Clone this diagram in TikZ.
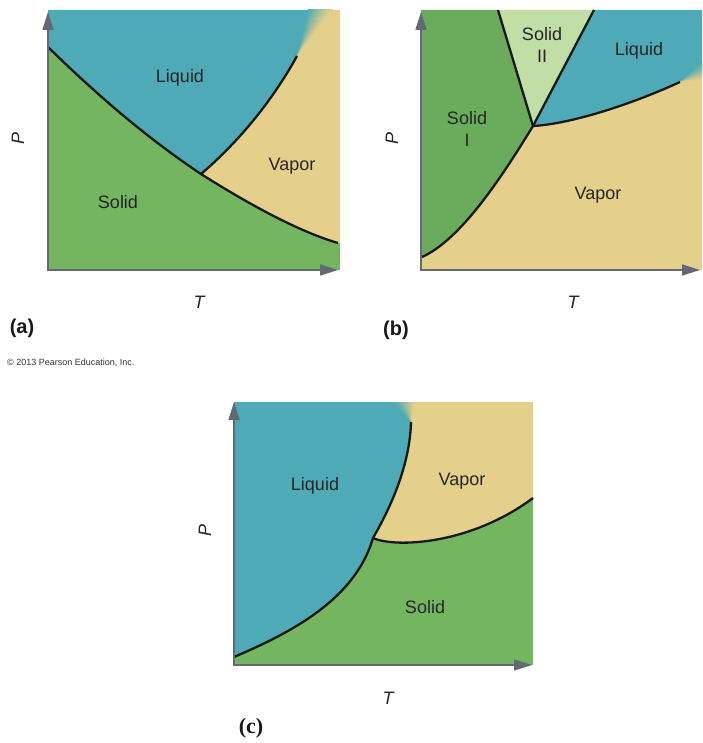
\documentclass[tikz,border=0pt]{standalone}
\usepackage{fontspec}
\setmainfont{Liberation Sans}
\newfontfamily\serifb{Liberation Serif}
\usetikzlibrary{arrows.meta}
\definecolor{liq}{RGB}{78,170,182}
\definecolor{vap}{RGB}{228,208,138}
\definecolor{sol}{RGB}{116,182,96}
\definecolor{solI}{RGB}{106,172,92}
\definecolor{solII}{RGB}{192,222,165}
\definecolor{axisc}{RGB}{100,104,114}
% soft blend between liquid and vapour: fan of wedges from (#1,#2) to around (#3,#4), normal (#5,#6), half-count #7
\newcommand\phfan[7]{%
  \pgfmathtruncatemacro\phlast{#7-1}%
  \foreach \s in {-#7,...,\phlast}{%
    \pgfmathtruncatemacro\phpct{100*(\s+0.5+#7)/(2*#7)}%
    \pgfmathsetmacro\phax{#3+(\s-0.3)*#5}%
    \pgfmathsetmacro\phay{#4+(\s-0.3)*#6}%
    \pgfmathsetmacro\phbx{#3+(\s+1.3)*#5}%
    \pgfmathsetmacro\phby{#4+(\s+1.3)*#6}%
    \fill[vap!\phpct!liq] (#1,#2) -- (\phax,\phay) -- (\phbx,\phby) -- cycle;
  }%
}
\begin{document}
\begin{tikzpicture}[x=1pt,y=-1pt,
  lbl/.style={font=\fontsize{18}{22}\selectfont, text=black!85, inner sep=0pt, align=center},
  axlbl/.style={font=\fontsize{18}{22}\selectfont\itshape, text=black!85, inner sep=0pt},
  panellbl/.style={font=\fontsize{20}{24}\selectfont\bfseries, text=black!90, inner sep=0pt},
  bound/.style={line width=2.3pt, black!90},
  axis/.style={line width=1.6pt, axisc, {Triangle[length=18pt,width=11pt]}-{Triangle[length=18pt,width=11pt]}}
]
\useasboundingbox (0,0) rectangle (702,743);
\fill[white] (0,0) rectangle (702,743);

% ---------------- panel (a)
\coordinate (tpa) at (201,174);
\fill[sol] (48,10) rectangle (340,270);
\fill[liq] (48,10) -- (318,10) -- (297,56) .. controls (270,105) and (235,145) .. (tpa)
  .. controls (150,140) and (100,98) .. (48,47) -- cycle;
\fill[vap] (318,10) -- (340,10) -- (340,243) -- (338,243)
  .. controls (300,232) and (250,205) .. (tpa)
  .. controls (235,145) and (270,105) .. (297,56) -- cycle;
\begin{scope}
  \clip (48,10) rectangle (340,270);
  \phfan{297}{56}{322}{4}{0.9}{0.43}{12}
\end{scope}
\draw[bound] (48,47) .. controls (100,98) and (150,140) .. (tpa)
  .. controls (250,205) and (300,232) .. (338,243);
\draw[bound] (tpa) .. controls (235,145) and (270,105) .. (297,56);
\coordinate (oa) at (48,270);
\draw[axis] (48,12) -- (oa) -- (338,270);
\node[lbl] (liqa) at (180,78) {Liquid};
\node[lbl] (vapa) at (292,166) {Vapor};
\node[lbl] (sola) at (118,202) {Solid};
\node[axlbl, rotate=90] (pa) at (18,138) {P};
\node[axlbl] (ta) at (199,302) {T};
\node[panellbl] (laba) at (22,328) {(a)};
\node[anchor=west, font=\fontsize{9}{10}\selectfont, text=black!80, inner sep=0pt] (copy) at (7,363) {© 2013 Pearson Education, Inc.};

% ---------------- panel (b)
\coordinate (tpb) at (533,126);
\fill[vap] (421,10) rectangle (702,270);
\fill[solI] (421,10) -- (498,10) -- (tpb)
  .. controls (500,180) and (460,240) .. (422,257) -- (421,257) -- cycle;
\fill[solII] (498,10) -- (594,10) -- (tpb) -- cycle;
\fill[liq] (594,10) -- (702,10) -- (702,72) -- (680,82)
  .. controls (630,105) and (570,124) .. (tpb) -- cycle;
\begin{scope}
  \clip (421,10) rectangle (702,270);
  \phfan{680}{82}{712}{67}{0.42}{0.9}{12}
\end{scope}
\draw[bound] (tpb) .. controls (500,180) and (460,240) .. (422,257);
\draw[bound] (tpb) -- (498,10);
\draw[bound] (tpb) -- (594,10);
\draw[bound] (tpb) .. controls (570,124) and (630,105) .. (680,82);
\coordinate (ob) at (421,270);
\draw[axis] (421,12) -- (ob) -- (700,270);
\node[lbl] (solIIb) at (542,45) {Solid\\II};
\node[lbl] (liqb) at (639,51) {Liquid};
\node[lbl] (solIb) at (467,129) {Solid\\I};
\node[lbl] (vapb) at (598,195) {Vapor};
\node[axlbl, rotate=90] (pb) at (392,138) {P};
\node[axlbl] (tb) at (573,302) {T};
\node[panellbl] (labb) at (396,330) {(b)};

% ---------------- panel (c)
\coordinate (tpc) at (373,538);
\fill[sol] (234,402) rectangle (533,665);
\fill[liq] (234,402) -- (405,402) -- (411,422)
  .. controls (410,460) and (395,500) .. (tpc)
  .. controls (355,600) and (290,633) .. (234,657) -- cycle;
\fill[vap] (405,402) -- (533,402) -- (533,498)
  .. controls (470,545) and (395,548) .. (tpc)
  .. controls (395,500) and (410,460) .. (411,422) -- cycle;
\begin{scope}
  \clip (234,402) rectangle (533,665);
  \phfan{411}{422}{401}{388}{1.45}{-0.39}{12}
\end{scope}
\draw[bound] (411,422) .. controls (410,460) and (395,500) .. (tpc);
\draw[bound] (tpc) .. controls (355,600) and (290,633) .. (234,657);
\draw[bound] (tpc) .. controls (395,548) and (470,545) .. (533,498);
\coordinate (oc) at (234,665);
\draw[axis] (234,402) -- (oc) -- (532,665);
\node[lbl] (liqc) at (315,486) {Liquid};
\node[lbl] (vapc) at (462,481) {Vapor};
\node[lbl] (solc) at (425,607) {Solid};
\node[axlbl, rotate=90] (pc) at (205,530) {P};
\node[axlbl] (tc) at (388,698) {T};
\node[font=\serifb\bfseries\fontsize{22}{26}\selectfont, text=black!90, inner sep=0pt] (labc) at (251,728) {(c)};
\end{tikzpicture}
\end{document}
